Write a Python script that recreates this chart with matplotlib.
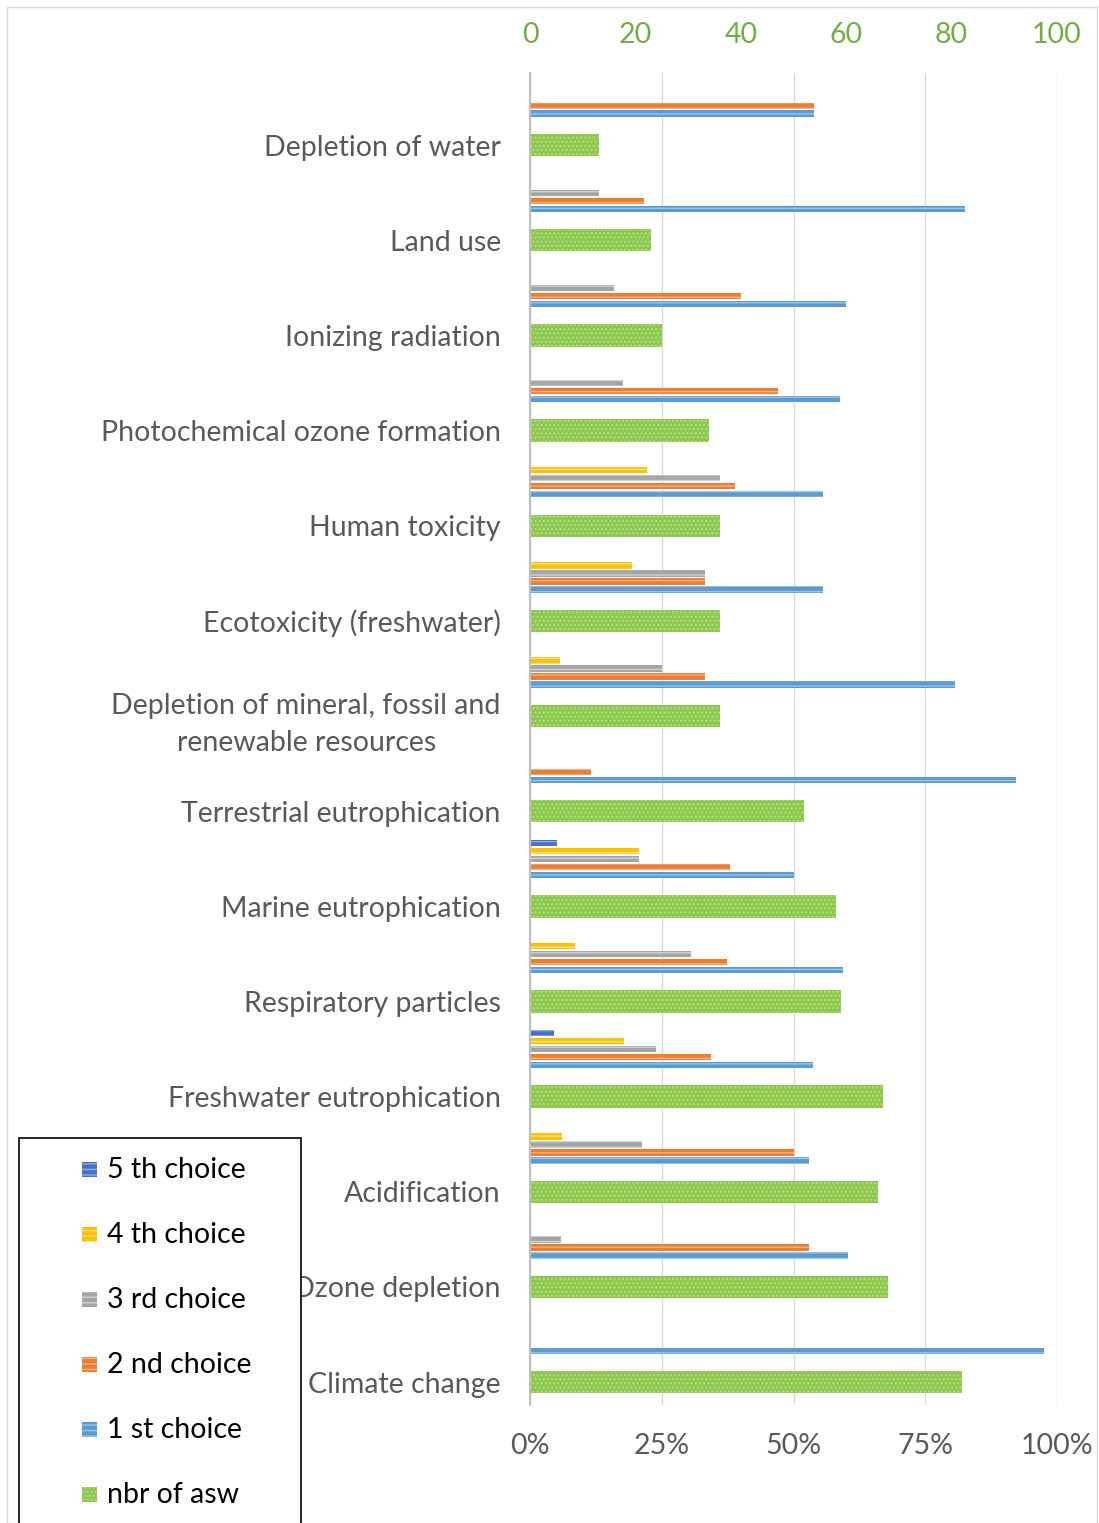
import numpy as np
import matplotlib.pyplot as plt
from matplotlib.patches import Rectangle

plt.rcParams['font.family'] = ['Lato', 'DejaVu Sans']
plt.rcParams['hatch.linewidth'] = 1.0

categories = ["Depletion of water", "Land use", "Ionizing radiation",
              "Photochemical ozone formation", "Human toxicity",
              "Ecotoxicity (freshwater)",
              "Depletion of mineral, fossil and\nrenewable resources",
              "Terrestrial eutrophication", "Marine eutrophication",
              "Respiratory particles", "Freshwater eutrophication",
              "Acidification", "Ozone depletion", "Climate change"]

# number of answers (top axis, 0-100)
nbr_asw = [13, 23, 25, 34, 36, 36, 36, 52, 58, 59, 67, 66, 68, 82]

# share of answers per rank (bottom axis, %)
choice_1 = [53.8, 82.6, 60.0, 58.8, 55.6, 55.6, 80.6, 92.3, 50.0, 59.3, 53.7, 53.0, 60.3, 97.6]
choice_2 = [53.8, 21.7, 40.0, 47.1, 38.9, 33.3, 33.3, 11.5, 37.9, 37.3, 34.3, 50.0, 52.9, 0]
choice_3 = [0, 13.0, 16.0, 17.6, 36.1, 33.3, 25.0, 0, 20.7, 30.5, 23.9, 21.2, 5.9, 0]
choice_4 = [0, 0, 0, 0, 22.2, 19.4, 5.6, 0, 20.7, 8.5, 17.9, 6.1, 0, 0]
choice_5 = [0, 0, 0, 0, 0, 0, 0, 0, 5.2, 0, 4.5, 0, 0, 0]

choices = [choice_1, choice_2, choice_3, choice_4, choice_5]
choice_names = ["1 st choice", "2 nd choice", "3 rd choice", "4 th choice", "5 th choice"]
choice_colors = ["#5B9BD5", "#ED7D31", "#A5A5A5", "#FFC000", "#4472C4"]
choice_light = ["#9DC3E6", "#F4B183", "#D0D0D0", "#FFE08A", "#8FAADC"]
green, green_light = "#8CC84B", "#B5DC8A"

FS = 20.5
W, H = 1099, 1523
fig = plt.figure(figsize=(W / 100, H / 100), dpi=100)
ax = fig.add_axes([530 / W, 1 - 1405 / H, 527 / W, 1332 / H])

y = np.arange(len(categories))
ax.barh(y, nbr_asw, height=0.235, color=green, edgecolor=green_light,
        hatch='....', linewidth=0, zorder=3)
for k, vals in enumerate(choices):
    ax.barh(y - 0.33 - k * 0.084, vals, height=0.066, color=choice_colors[k],
            edgecolor=choice_light[k], hatch='---', linewidth=0, zorder=3)

ax.set_xlim(0, 100)
ax.set_ylim(13.24, -0.757)
ax.set_xticks([0, 25, 50, 75, 100])
ax.set_xticklabels(["0%", "25%", "50%", "75%", "100%"])
ax.tick_params(axis='x', length=0, pad=20, labelsize=FS, labelcolor='#595959')
ax.set_yticks(y)
ax.set_yticklabels(categories, ha='right', multialignment='center', linespacing=1.55)
ax.tick_params(axis='y', length=0, pad=21, labelsize=FS, labelcolor='#595959')
ax.grid(axis='x', color='#D9D9D9', linewidth=1, zorder=0)
for s in ['top', 'right', 'bottom']:
    ax.spines[s].set_visible(False)
ax.spines['left'].set_color('#BFBFBF')
ax.spines['left'].set_linewidth(1.5)
ax.spines['left'].set_zorder(4)

top = ax.secondary_xaxis('top')
top.set_xticks([0, 20, 40, 60, 80, 100])
top.tick_params(length=0, pad=18, labelsize=FS, labelcolor='#70AD47')
top.spines['top'].set_visible(False)

# outer frame
fig.add_artist(Rectangle((7 / W, 0), 1090 / W, 1 - 7 / H, transform=fig.transFigure,
                         fill=False, edgecolor='#D9D9D9', linewidth=1))

# legend box drawn by hand (it runs off the bottom edge)
fig.add_artist(Rectangle((19 / W, -0.01), 282 / W, 0.01 + 1 - 1138 / H,
                         transform=fig.transFigure, facecolor='white',
                         edgecolor='black', linewidth=1.2, zorder=5))
leg_names = choice_names[::-1] + ["nbr of asw"]
leg_colors = choice_colors[::-1] + [green]
leg_light = choice_light[::-1] + [green_light]
leg_hatch = ['---'] * 5 + ['....']
for i, name in enumerate(leg_names):
    yc = 1170 + i * 65
    fig.add_artist(Rectangle((82 / W, 1 - (yc + 7) / H), 15 / W, 15 / H,
                             transform=fig.transFigure, facecolor=leg_colors[i],
                             edgecolor=leg_light[i], hatch=leg_hatch[i],
                             linewidth=0, zorder=6))
    fig.text(107 / W, 1 - yc / H, name, fontsize=FS, color='black',
             va='center', ha='left', zorder=7)

fig.savefig("out.png", dpi=100)
